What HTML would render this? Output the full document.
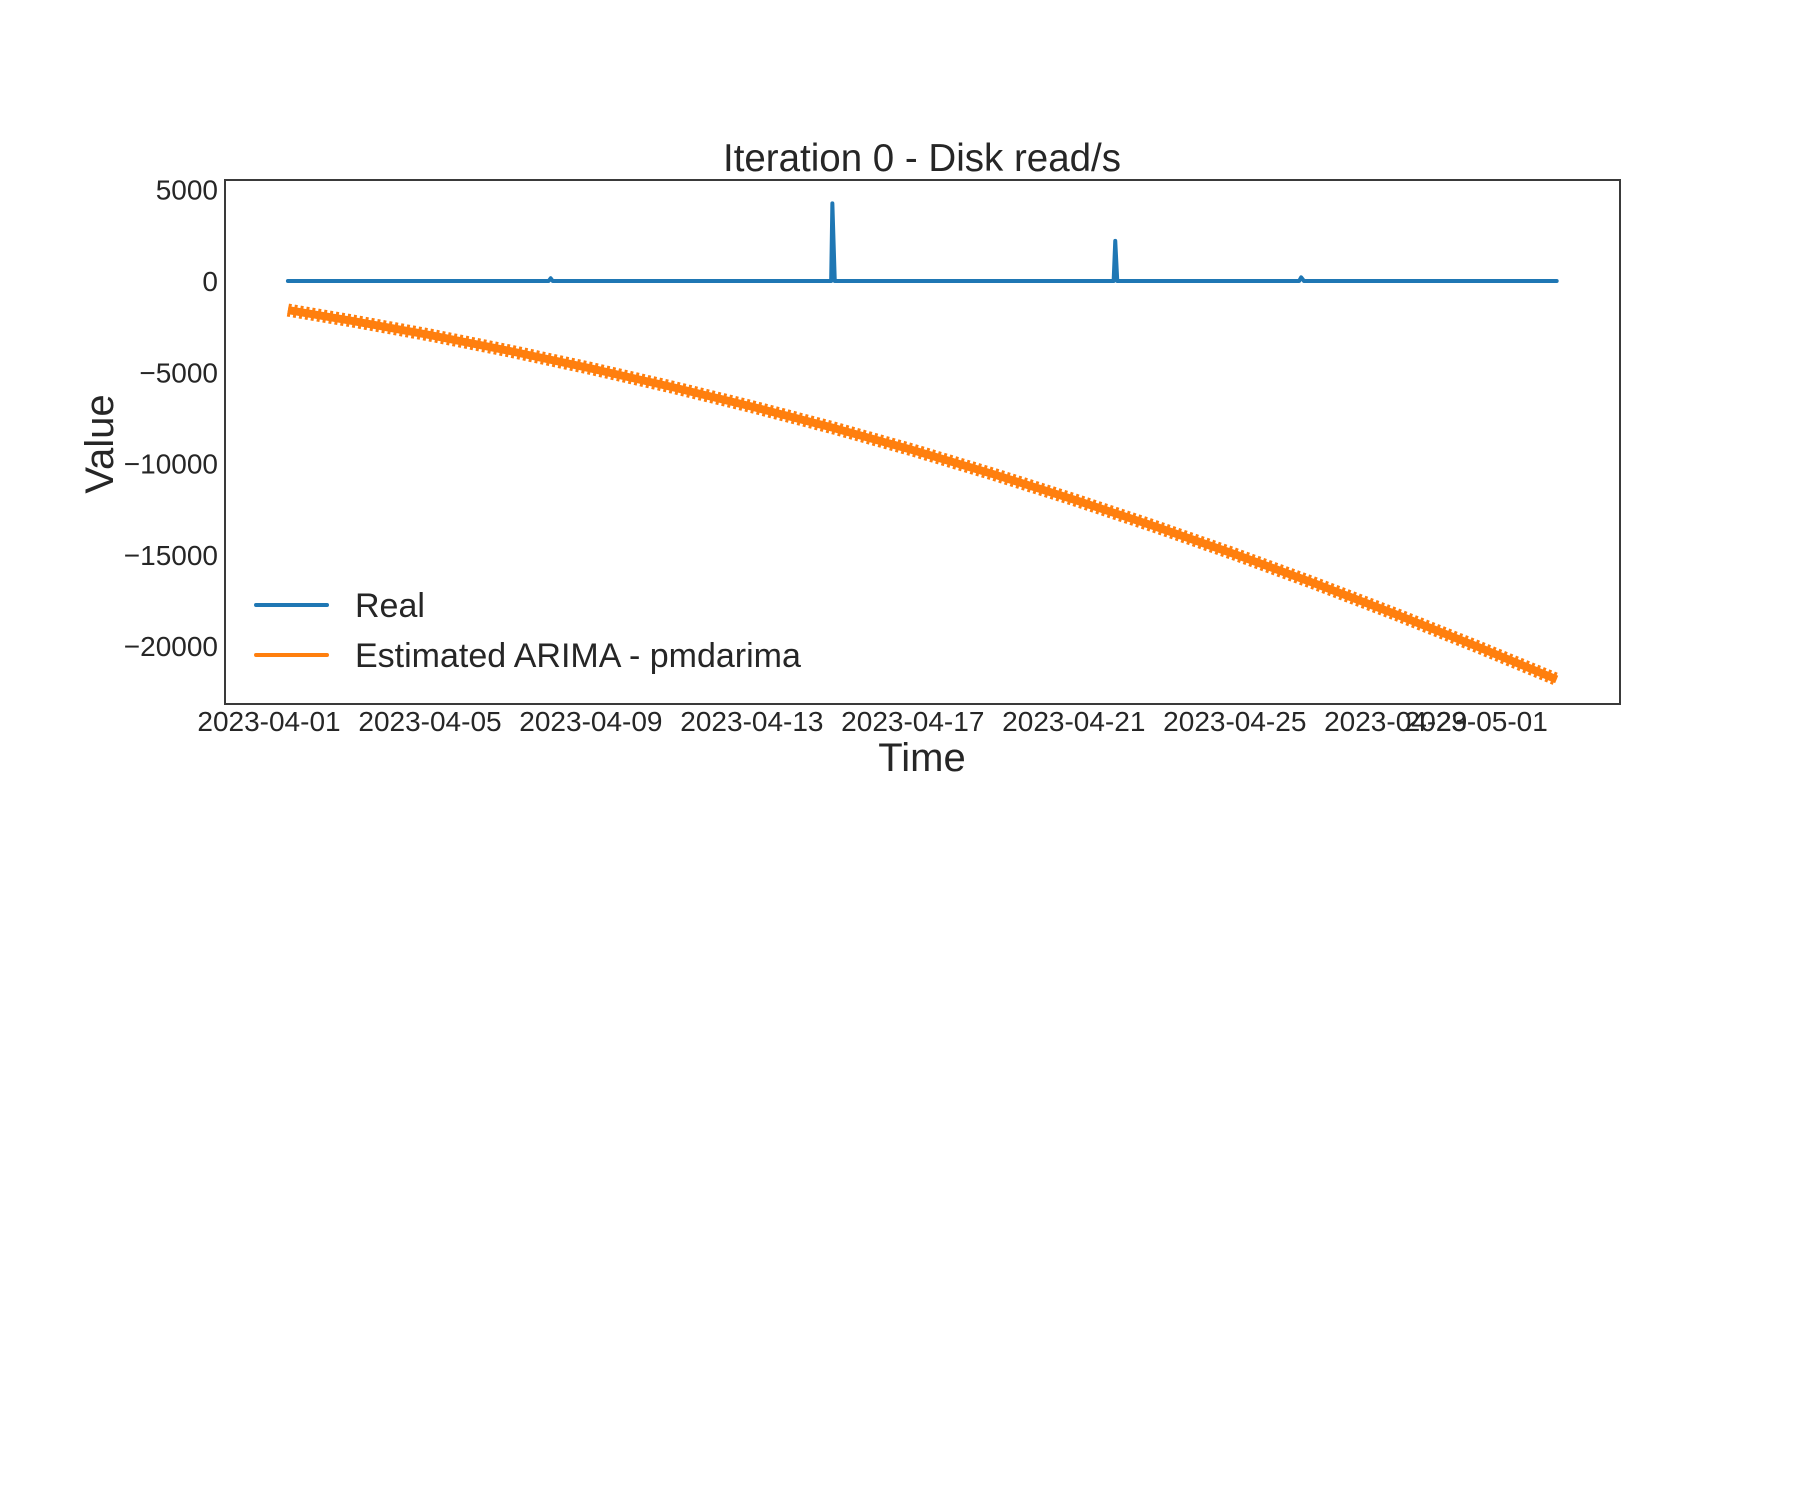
<!DOCTYPE html>
<html><head><meta charset="utf-8">
<style>
html,body{margin:0;padding:0;background:#fff;}
svg text{font-family:"Liberation Sans",Arial,sans-serif;fill:#262626;}
</style></head>
<body>
<svg id="chart" width="1800" height="1500" viewBox="0 0 1800 1500" xmlns="http://www.w3.org/2000/svg">
<rect width="1800" height="1500" fill="#fff"/>
<text x="922" y="171" font-size="38.5" text-anchor="middle">Iteration 0 - Disk read/s</text>
<g id="plot"></g>
<g id="yticks"></g>
<g id="xticks"></g>
<rect x="225" y="180" width="1395" height="524" fill="none" stroke="#3a3a3a" stroke-width="2"/>
<text x="922" y="771" font-size="40" text-anchor="middle">Time</text>
<text transform="translate(113,444) rotate(-90)" font-size="40" text-anchor="middle">Value</text>
<g>
  <g>
    <line x1="256" y1="605" x2="327" y2="605" stroke="#1f77b4" stroke-width="4" stroke-linecap="round"/>
    <text x="355" y="617" font-size="34">Real</text>
  </g>
  <g>
    <line x1="256" y1="655" x2="327" y2="655" stroke="#ff7f0e" stroke-width="4" stroke-linecap="round"/>
    <text x="355" y="667" font-size="34">Estimated ARIMA - pmdarima</text>
  </g>
</g>
</svg>
<script>
// data (days since 2023-04-01)
const realDays   = [0.47, 6.95, 7.0, 7.05, 13.97, 14.0, 14.06, 20.99, 21.03, 21.08, 25.6, 25.65, 25.72, 32.0];
const realValues = [0, 0, 150, 0, 0, 4250, 0, 0, 2200, 0, 0, 200, 0, 0];
const estDays    = [0.47, 2, 4, 6, 8, 10, 12, 14, 16, 18, 20, 22, 24, 26, 28, 30, 32.0];
const estValues  = [-1590, -2160, -2960, -3840, -4790, -5800, -6880, -8030, -9260, -10580, -11970, -13430, -14960, -16570, -18250, -20000, -21820];
const yTickValues = [5000, 0, -5000, -10000, -15000, -20000];
const yTickLabels = ["5000", "0", "\u22125000", "\u221210000", "\u221215000", "\u221220000"];
const xTickDays   = [0, 4, 8, 12, 16, 20, 24, 28, 30];
const xTickLabels = ["2023-04-01","2023-04-05","2023-04-09","2023-04-13","2023-04-17","2023-04-21","2023-04-25","2023-04-29","2023-05-01"];

const NS = "http://www.w3.org/2000/svg";
const xScale = d => 269 + d * 40.24;
const yScale = v => 281 - v * 0.01826;

const plot = document.getElementById('plot');
function pts(ds, vs){ return ds.map((d,i)=>xScale(d).toFixed(2)+','+yScale(vs[i]).toFixed(2)).join(' '); }

const estBand = document.createElementNS(NS,'polyline');
estBand.setAttribute('points', pts(estDays, estValues));
estBand.setAttribute('fill','none');
estBand.setAttribute('stroke','#ff7f0e');
estBand.setAttribute('stroke-width','8');
estBand.setAttribute('stroke-linejoin','round');


plot.appendChild(estBand);

const estTeeth = document.createElementNS(NS,'polyline');
estTeeth.setAttribute('points', pts(estDays, estValues));
estTeeth.setAttribute('fill','none');
estTeeth.setAttribute('stroke','#ff7f0e');
estTeeth.setAttribute('stroke-width','13');
estTeeth.setAttribute('stroke-dasharray','3 3');


plot.appendChild(estTeeth);

const real = document.createElementNS(NS,'polyline');
real.setAttribute('points', pts(realDays, realValues));
real.setAttribute('fill','none');
real.setAttribute('stroke','#1f77b4');
real.setAttribute('stroke-width','4');
real.setAttribute('stroke-linejoin','round');
real.setAttribute('stroke-linecap','round');


plot.appendChild(real);

const yg = document.getElementById('yticks');
yTickValues.forEach((v,i)=>{
  const t = document.createElementNS(NS,'text');
  t.setAttribute('x','218');
  t.setAttribute('y',(yScale(v)+10).toFixed(1));
  t.setAttribute('font-size','28');
  t.setAttribute('text-anchor','end');
  t.textContent = yTickLabels[i];
  
  
  yg.appendChild(t);
});
const xg = document.getElementById('xticks');
xTickDays.forEach((d,i)=>{
  const t = document.createElementNS(NS,'text');
  t.setAttribute('x',xScale(d).toFixed(1));
  t.setAttribute('y','731');
  t.setAttribute('font-size','28');
  t.setAttribute('text-anchor','middle');
  t.textContent = xTickLabels[i];
  
  
  xg.appendChild(t);
});
</script>
</body></html>
